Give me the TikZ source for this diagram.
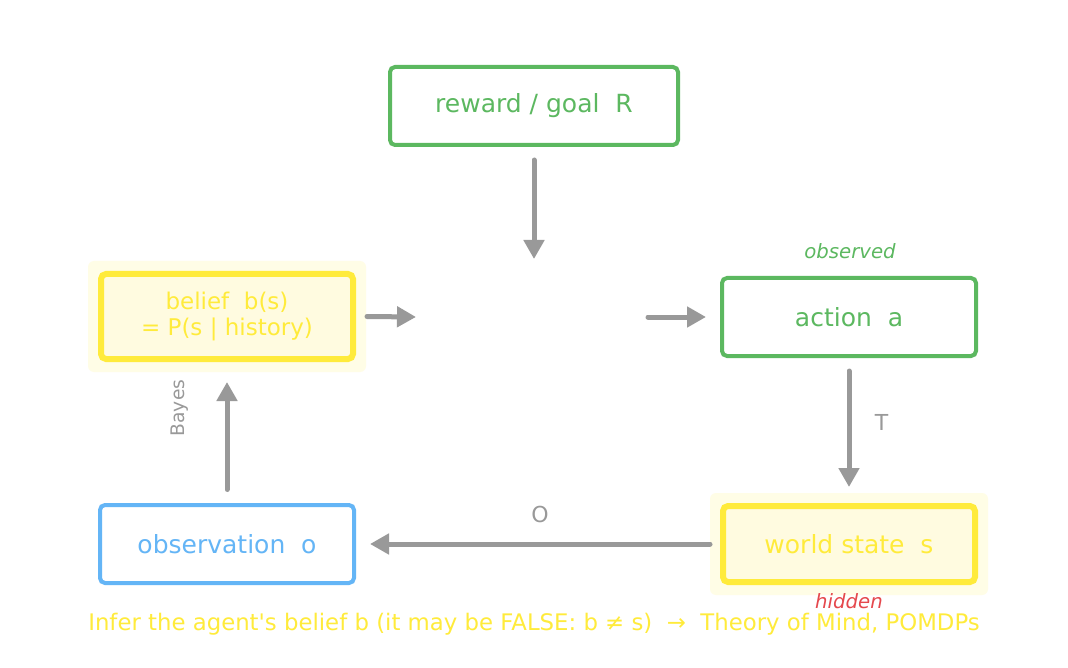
\documentclass[tikz,border=0pt]{standalone}
\usepackage{fontspec}
\setmainfont{DejaVu Sans}
\newfontfamily\plainfont{DejaVu Sans}
\usetikzlibrary{arrows.meta}
\definecolor{cgreen}{HTML}{5CB860}
\definecolor{cblue}{HTML}{64B5F6}
\definecolor{cyellow}{HTML}{FFEB3B}
\definecolor{cyfill}{HTML}{FFFBE0}
\definecolor{cglow}{HTML}{FFFDE6}
\definecolor{cgrey}{HTML}{999999}
\definecolor{cred}{HTML}{E5484D}
\tikzset{
  box/.style={draw, rounded corners=5pt, inner sep=0pt, line width=4pt, fill=white,
    font=\fontsize{25}{26}\selectfont, align=center},
  greenbox/.style={box, draw=cgreen, text=cgreen},
  bluebox/.style={box, draw=cblue, text=cblue},
  yellowbox/.style={box, draw=cyellow, text=cyellow, fill=cyfill, line width=6pt},
  glow/.style={fill=cglow, rounded corners=6pt},
  flow/.style={draw=cgrey, line width=5pt, line cap=round, -{Triangle[length=19pt,width=20pt]}},
  lbl/.style={text=cgrey, font=\fontsize{22}{26}\selectfont},
  side/.style={font=\fontsize{19.7}{23}\selectfont\itshape}
}
\begin{document}
\begin{tikzpicture}[x=1pt,y=-1pt]
\useasboundingbox (0,0) rectangle (1068,668);
\fill[white] (0,0) rectangle (1068,668);
% glows
\fill[glow] (88,261) rectangle (366,372);
\fill[glow] (710,493) rectangle (988,595);
% boxes
\node[greenbox, minimum width=288pt, minimum height=78pt] (reward) at (534,106) {reward / goal\ \ R};
\node[yellowbox, minimum width=252pt, minimum height=85pt, font=\fontsize{23}{26}\selectfont] (belief) at (227,316.5) {belief\ \ b(s)\\= P(s | history)};
\node[greenbox, minimum width=254pt, minimum height=78pt] (action) at (849,317) {action\ \ a};
\node[bluebox, minimum width=254pt, minimum height=78pt] (obs) at (227,544) {observation\ \ o};
\node[yellowbox, minimum width=252pt, minimum height=76pt] (world) at (849,544) {world state\ \ s};
% free ends
\coordinate (pin) at (534,160);
\coordinate (pout) at (534,259);
\coordinate (bin) at (416,317);
\coordinate (aout) at (648,317);
% arrows
\draw[flow] (pin) -- (pout);
\draw[flow] ([xshift=11pt]belief.east) -- (bin);
\draw[flow] (aout) -- ([xshift=-14pt]action.west);
\draw[flow] ([yshift=-13pt]action.south) -- node[lbl, right=20pt, yshift=7pt] {T} ([yshift=16pt]world.north);
\draw[flow] ([xshift=-10pt]world.west) -- node[lbl, above=15pt] {O} ([xshift=14pt]obs.east);
\draw[flow] ([yshift=13.5pt]obs.north) -- ([yshift=-20pt]belief.south);
\node[text=cgrey, rotate=90, font=\fontsize{18.7}{21}\selectfont] (bayes) at (180,408) {Bayes};
% side labels
\node[side, text=cgreen] (observed) at (850,251) {observed};
\node[side, text=cred] (hidden) at (849,601) {hidden};
% caption
\node[text=cyellow, font=\plainfont\fontsize{22.8}{26}\selectfont] (caption) at (534,624) {Infer the agent's belief b (it may be FALSE: b ≠ s)\ \ →\ \ Theory of Mind, POMDPs};
\end{tikzpicture}
\end{document}
